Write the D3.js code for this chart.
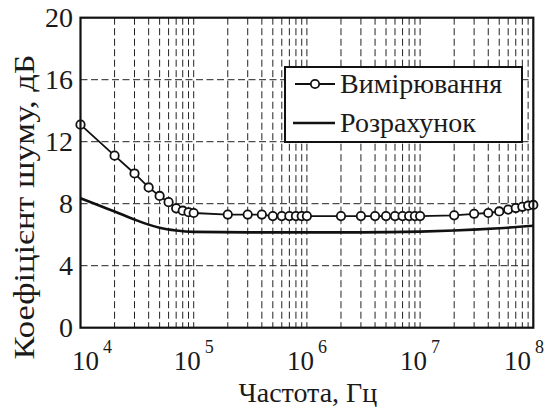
<!DOCTYPE html>
<html><head><meta charset="utf-8">
<script src="https://cdn.jsdelivr.net/npm/d3@7"></script>
</head><body style="margin:0">
<svg id="c" width="544" height="407"></svg>
<script>
// Measured noise figure (circles)
const measFreq = [1e4,2e4,3e4,4e4,5e4,6e4,7e4,8e4,9e4,
  1e5,2e5,3e5,4e5,5e5,6e5,7e5,8e5,9e5,
  1e6,2e6,3e6,4e6,5e6,6e6,7e6,8e6,9e6,
  1e7,2e7,3e7,4e7,5e7,6e7,7e7,8e7,9e7,1e8];
const measNF = [13.1,11.1,9.95,9.05,8.5,8.1,7.7,7.55,7.45,
  7.4,7.3,7.3,7.3,7.2,7.2,7.2,7.2,7.2,
  7.2,7.2,7.2,7.2,7.2,7.2,7.2,7.2,7.2,
  7.2,7.25,7.35,7.4,7.5,7.62,7.72,7.8,7.87,7.92];
// Calculated noise figure (solid line)
const calcFreq = [1e4,1.5e4,2e4,3e4,4e4,5e4,7e4,1e5,3e5,1e6,3e6,1e7,2e7,3e7,5e7,1e8];
const calcNF = [8.35,7.85,7.5,6.98,6.65,6.45,6.27,6.18,6.15,6.15,6.15,6.2,6.27,6.33,6.42,6.58];
const yTicks = [0,4,8,12,16,20];
const decades = [4,5,6,7,8];
const legendLabels = ["Вимірювання","Розрахунок"];
const xTitle = "Частота, Гц";
const yTitle = "Коефіцієнт шуму, дБ";

const svg = d3.select("#c");
const L=80.5, R=533.3, T=17.7, B=327.7;
const x = d3.scaleLog().domain([1e4,1e8]).range([L,R]);
const y = d3.scaleLinear().domain([0,20]).range([B,T]);
const txt = (sel) => sel.style("font-family","Liberation Serif").attr("fill","#1a1a1a");

// vertical grid at minor log positions
const minor = [];
for (let e=4;e<8;e++) for (let m=1;m<=9;m++){ const v=m*Math.pow(10,e); if(v>1e4) minor.push(v); }
svg.append("g").selectAll("line").data(minor).join("line")
  .attr("x1",d=>x(d)).attr("x2",d=>x(d)).attr("y1",T).attr("y2",B)
  .attr("stroke","#222").attr("stroke-width",1).attr("stroke-dasharray","7,3.5");
svg.append("g").selectAll("line").data(yTicks.filter(d=>d>0&&d<20)).join("line")
  .attr("x1",L).attr("x2",R).attr("y1",d=>y(d)).attr("y2",d=>y(d))
  .attr("stroke","#222").attr("stroke-width",1).attr("stroke-dasharray","7,3.5");

// calc line
svg.append("path").datum(calcFreq.map((f,i)=>[f,calcNF[i]]))
  .attr("fill","none").attr("stroke","#111").attr("stroke-width",2.6)
  .attr("d",d3.line().x(d=>x(d[0])).y(d=>y(d[1])).curve(d3.curveMonotoneX));

// measured
const mdat = measFreq.map((f,i)=>[f,measNF[i]]);
svg.append("path").datum(mdat).attr("fill","none").attr("stroke","#111").attr("stroke-width",1.8)
  .attr("d",d3.line().x(d=>x(d[0])).y(d=>y(d[1])));
svg.append("g").selectAll("circle").data(mdat).join("circle")
  .attr("cx",d=>x(d[0])).attr("cy",d=>y(d[1])).attr("r",4.2)
  .attr("fill","#fff").attr("stroke","#111").attr("stroke-width",1.8);

// frame
svg.append("rect").attr("x",L).attr("y",T).attr("width",R-L).attr("height",B-T)
  .attr("fill","none").attr("stroke","#111").attr("stroke-width",2.2);

// y tick labels
svg.append("g").selectAll("text").data(yTicks).join("text").call(txt)
  .attr("x",73).attr("y",d=>y(d)).attr("dy","0.34em").attr("text-anchor","end")
  .attr("font-size",28).text(d=>d);

// x tick labels
const xl = svg.append("g").selectAll("text").data(decades).join("text").call(txt)
  .attr("x",d=>Math.max(92,Math.min(524,x(Math.pow(10,d))))).attr("y",370)
  .attr("text-anchor","middle").attr("font-size",27);
xl.append("tspan").text("10");
xl.append("tspan").attr("dx",4).attr("dy",-17).attr("font-size",18).text(d=>d);

// axis titles
svg.append("text").call(txt)
  .attr("x",(L+R)/2+1).attr("y",402).attr("text-anchor","middle")
  .attr("font-size",28).text(xTitle);
svg.append("text").call(txt)
  .attr("transform","translate(34,207) rotate(-90)").attr("text-anchor","middle")
  .attr("font-size",29).attr("textLength",305).attr("lengthAdjust","spacingAndGlyphs")
  .text(yTitle);

// legend
const lg = svg.append("g");
lg.append("rect").attr("x",285).attr("y",67).attr("width",237).attr("height",75)
  .attr("fill","#fff").attr("stroke","#111").attr("stroke-width",2);
lg.append("line").attr("x1",295).attr("x2",335).attr("y1",84).attr("y2",84).attr("stroke","#111").attr("stroke-width",1.8);
lg.append("circle").attr("cx",315).attr("cy",84).attr("r",4.2).attr("fill","#fff").attr("stroke","#111").attr("stroke-width",1.8);
lg.append("line").attr("x1",293).attr("x2",335).attr("y1",123).attr("y2",123).attr("stroke","#111").attr("stroke-width",2.6);
lg.append("text").call(txt).attr("x",340).attr("y",93).attr("font-size",28).text(legendLabels[0]);
lg.append("text").call(txt).attr("x",340).attr("y",132).attr("font-size",28).text(legendLabels[1]);
</script></body></html>
